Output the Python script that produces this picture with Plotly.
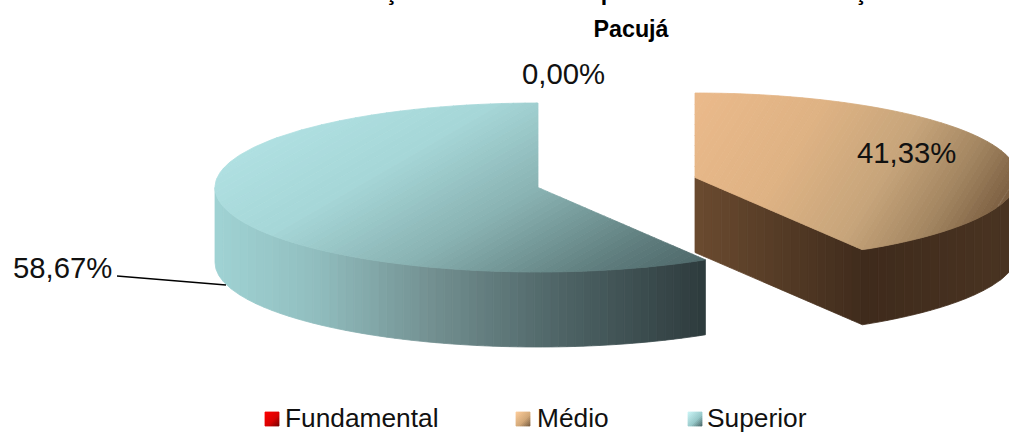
import numpy as np
import plotly.graph_objects as go

categories = ["Fundamental", "Médio", "Superior"]
values = [0.00, 41.33, 58.67]
title_lines = ["Escolarização dos servidores públicos da Administração em", "Pacujá"]
label_color = "#111111"
FONT = "Liberation Sans"

W, H = 1009, 432
A, B, DEPTH = 323.0, 84.5, 75.0


def sector(cx, cy, start, end, n=240):
    th = np.radians(np.linspace(start, end, n))
    return cx + A * np.sin(th), cy - B * np.cos(th)


def clip(px, py, nx, ny, lim, keep_less):
    out = []
    k = len(px)
    for i in range(k):
        a = np.array([px[i], py[i]])
        b = np.array([px[(i + 1) % k], py[(i + 1) % k]])
        da = nx * a[0] + ny * a[1] - lim
        db = nx * b[0] + ny * b[1] - lim
        if not keep_less:
            da, db = -da, -db
        if da <= 0:
            out.append(a)
        if (da < 0 < db) or (db < 0 < da):
            out.append(a + (b - a) * da / (da - db))
    if not out:
        return np.array([]), np.array([])
    o = np.array(out)
    return o[:, 0], o[:, 1]


def lerp(stops, t):
    ts = [s[0] for s in stops]
    cs = np.array([[int(s[1][i:i + 2], 16) for i in (1, 3, 5)] for s in stops], float)
    return "rgb(%d,%d,%d)" % tuple(np.interp(t, ts, cs[:, j]) for j in range(3))


def shaded(fig, px, py, nx, ny, t0, t1, stops, bands, name=None):
    edges = np.linspace(t0, t1, bands + 1)
    proj = nx * px + ny * py
    edges[0] = min(edges[0], proj.min() - 1)
    edges[-1] = max(edges[-1], proj.max() + 1)
    for i in range(bands):
        x, y = clip(px, py, nx, ny, edges[i], False)
        if len(x) < 3:
            continue
        x, y = clip(x, y, nx, ny, edges[i + 1], True)
        if len(x) < 3:
            continue
        col = lerp(stops, (i + 0.5) / bands)
        fig.add_trace(go.Scatter(
            x=np.r_[x, x[0]], y=np.r_[y, y[0]], mode="lines", fill="toself", name=name,
            fillcolor=col, line=dict(color=col, width=0.8), showlegend=False, hoverinfo="skip"))


fig = go.Figure()

frac = values[1] / sum(values)
cut = 360 * frac

# Médio: exploded to the right
cxm, cym = 695.0, 177.5
ax, ay = sector(cxm, cym, 0, cut)
bx, by = sector(cxm, cym, cut, 90)
fx = np.r_[cxm, ax[-1], bx, bx[::-1], ax[-1], cxm]
fy = np.r_[cym, ay[-1], by, by[::-1] + DEPTH, ay[-1] + DEPTH, cym + DEPTH]
shaded(fig, fx, fy, 1, 0, 695, 1009,
       [(0, "#6B4B30"), (0.3, "#533A25"), (0.55, "#3F2B1C"), (1, "#4A3422")], 36, categories[1])
tx = np.r_[cxm, ax]
ty = np.r_[cym, ay]
shaded(fig, tx, ty, 0.85, 0.53, 0.85 * 695 + 0.53 * 94, 0.85 * 1009 + 0.53 * 210,
       [(0, "#EBBA8B"), (0.35, "#DFB384"), (0.62, "#C7A57B"), (0.82, "#A38661"), (1, "#76593D")], 60, categories[1])

# Superior
cxs, cys = 538.0, 187.5
ax, ay = sector(cxs, cys, cut, 360)
lx, ly = sector(cxs, cys, cut, 270)
fx = np.r_[lx, lx[::-1]]
fy = np.r_[ly, ly[::-1] + DEPTH]
shaded(fig, fx, fy, 1, 0, 215, 706,
       [(0, "#A0D3D4"), (0.2, "#92BFC0"), (0.45, "#728F90"), (0.7, "#4F6567"), (1, "#2E3B3D")], 60, categories[2])
tx = np.r_[cxs, ax]
ty = np.r_[cys, ay]
shaded(fig, tx, ty, 0.5, 0.87, 0.5 * 215 + 0.87 * 110, 0.5 * 706 + 0.87 * 272,
       [(0, "#B6E6E8"), (0.35, "#A6D7D8"), (0.6, "#89B2B2"), (0.85, "#5F7D7E"), (1, "#4C6566")], 70, categories[2])

# legend swatches and texts
swatch_left = [265, 516, 688]
text_left = [283, 535, 705]
swatch_stops = [
    [(0, "#FF0000"), (0.6, "#D80000"), (1, "#7A0000")],
    [(0, "#FFCE9C"), (0.6, "#D2A878"), (1, "#7C6044")],
    [(0, "#CDF7F8"), (0.6, "#97C8C9"), (1, "#4C6A6B")],
]
annots = []
for c, sx, lx_, st in zip(categories, swatch_left, text_left, swatch_stops):
    sq_x = np.array([sx, sx + 14, sx + 14, sx], float)
    sq_y = np.array([412, 412, 426, 426], float)
    shaded(fig, sq_x, sq_y, 0.707, 0.707, 0.707 * (sx + 412), 0.707 * (sx + 14 + 426), st, 14, c)
    annots.append(dict(x=lx_, y=418, text=c, showarrow=False, xref="x", yref="y", xanchor="left",
                       font=dict(size=26.3, color=label_color, family=FONT)))

# leader line for the Superior label
fig.add_trace(go.Scatter(x=[117, 226], y=[276, 285], mode="lines",
                         line=dict(color="#000000", width=1.5), showlegend=False, hoverinfo="skip"))


def pct(v):
    return f"{v:.2f}".replace(".", ",") + "%"


labels = [(values[0], 563, 73), (values[1], 906, 152), (values[2], 62, 267)]
annots += [dict(x=x, y=y, text=pct(v), showarrow=False, xref="x", yref="y",
                font=dict(size=29.3, color=label_color, family=FONT)) for v, x, y in labels]
annots.append(dict(x=602 / W, y=1 + 8 / H, text="<b>" + title_lines[0] + "</b>", showarrow=False,
                   xref="paper", yref="paper", xanchor="center", yanchor="middle",
                   font=dict(size=23, color="#000000", family=FONT)))

fig.update_layout(
    width=W, height=H, margin=dict(l=0, r=0, t=0, b=0),
    paper_bgcolor="#FFFFFF", plot_bgcolor="#FFFFFF", showlegend=False,
    font=dict(family=FONT),
    xaxis=dict(range=[0, W], visible=False, fixedrange=True),
    yaxis=dict(range=[H, 0], visible=False, fixedrange=True),
    title=dict(text="<b>" + title_lines[1] + "</b>", x=631 / W, xanchor="center", y=1 - 29 / H,
               yanchor="middle", xref="paper", yref="paper", font=dict(size=23.3, color="#000000", family=FONT)),
    annotations=annots,
    hovermode=False,
)

fig.write_html("out.html", config={"displayModeBar": False},
               post_script="document.body.style.margin='0';")
